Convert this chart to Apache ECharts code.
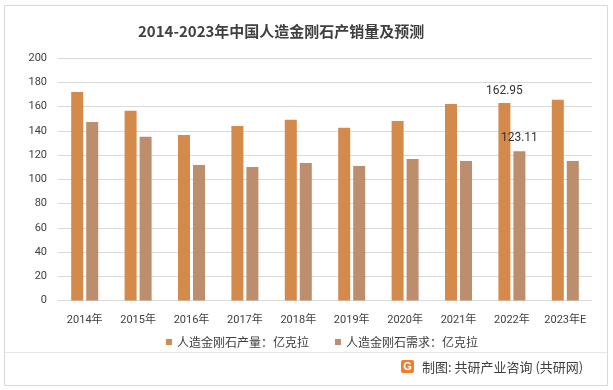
<!DOCTYPE html>
<html><head><meta charset="utf-8">
<script src="https://cdn.jsdelivr.net/npm/echarts@6/dist/echarts.min.js"></script>
<style>html,body{margin:0;padding:0;background:#fff}#c{width:613px;height:390px}</style>
</head><body><div id="c"></div>
<script>
const categories = ['2014年','2015年','2016年','2017年','2018年','2019年','2020年','2021年','2022年','2023年E'];
const production = [172.0, 156.5, 136.5, 144.0, 149.0, 142.5, 148.0, 162.0, 162.95, 165.5];
const demand = [147.2, 135.0, 111.7, 110.2, 113.5, 111.0, 116.8, 115.0, 123.11, 115.0];
const yTicks = {min: 0, max: 200, interval: 20};
const labelIndex = 8;

const chart = echarts.init(document.getElementById('c'));
const font = 'Roboto, "Noto Sans CJK SC", sans-serif';
chart.setOption({
  backgroundColor: '#fff',
  animation: false,
  title: {
    text: '2014-2023年中国人造金刚石产销量及预测',
    left: 133, top: 19,
    textStyle: {fontSize: 15, fontWeight: 'bold', color: '#404040', fontFamily: '"Noto Sans CJK SC", sans-serif'}
  },
  grid: {left: 58, right: 21, top: 58, bottom: 89.5, containLabel: false},
  legend: {
    top: 331, left: 161,
    itemWidth: 6, itemHeight: 6, itemGap: 26, icon: 'rect',
    textStyle: {fontSize: 12, color: '#404040', fontFamily: '"Noto Sans CJK SC", sans-serif'},
    data: ['人造金刚石产量：亿克拉', '人造金刚石需求：亿克拉']
  },
  xAxis: {
    type: 'category', data: categories,
    axisLine: {lineStyle: {color: '#d9d9d9'}},
    axisTick: {show: false},
    axisLabel: {interval: 0, fontSize: 11, color: '#404040', margin: 14, fontFamily: font}
  },
  yAxis: {
    type: 'value', min: yTicks.min, max: yTicks.max, interval: yTicks.interval,
    axisLine: {show: false}, axisTick: {show: false},
    splitLine: {lineStyle: {color: '#d9d9d9'}},
    axisLabel: {fontSize: 11, color: '#404040', margin: 11, fontFamily: font}
  },
  series: [
    {
      name: '人造金刚石产量：亿克拉', type: 'bar', data: production.map((v, i) => i === labelIndex ? {value: v, label: {show: true}} : v),
      barWidth: 12, barGap: '25%',
      itemStyle: {color: '#D48A4B'},
      label: {show: false, position: 'top', distance: 6, fontSize: 12, color: '#333', fontFamily: font}
    },
    {
      name: '人造金刚石需求：亿克拉', type: 'bar', data: demand.map((v, i) => i === labelIndex ? {value: v, label: {show: true}} : v),
      barWidth: 12,
      itemStyle: {color: '#BC8E6D'},
      label: {show: false, position: 'top', distance: 7, fontSize: 12, color: '#333', fontFamily: font}
    }
  ],
  graphic: [
    {type: 'rect', shape: {x: 4.5, y: 5.5, width: 603, height: 380}, style: {fill: 'none', stroke: '#d9d9d9', lineWidth: 1}, z: -1},
    {type: 'line', shape: {x1: 5, y1: 352.5, x2: 607, y2: 352.5}, style: {stroke: '#e6e6e6', lineWidth: 1}},
    {type: 'rect', shape: {x: 401, y: 360, width: 13, height: 13, r: 2}, style: {fill: '#F07E2E'}},
    {type: 'text', style: {x: 407.5, y: 366.5, text: 'G', fill: '#fff', font: 'bold 11px sans-serif', align: 'center', verticalAlign: 'middle'}},
    {type: 'text', style: {x: 422, y: 367, text: '制图: 共研产业咨询 (共研网)', fill: '#404040', font: '13px "Noto Sans CJK SC", sans-serif', verticalAlign: 'middle'}}
  ]
});
</script></body></html>
